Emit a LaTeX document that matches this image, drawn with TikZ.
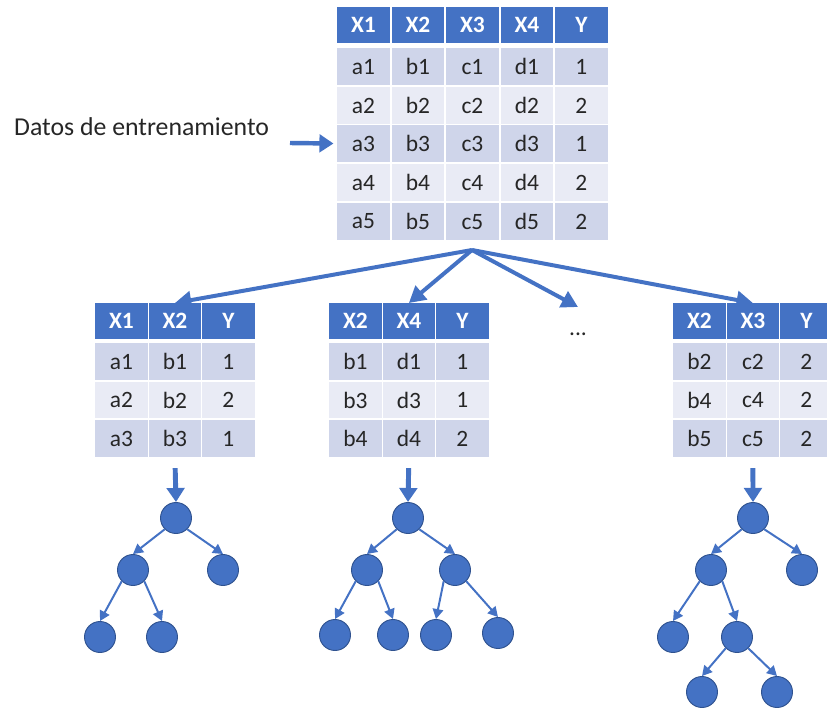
\documentclass[tikz,border=0pt]{standalone}
\usepackage{fontspec}
\setmainfont{Carlito}
\usetikzlibrary{arrows.meta}
\definecolor{hdblue}{HTML}{4472C4}
\definecolor{nodeline}{HTML}{2F528F}
\definecolor{rowdark}{HTML}{CFD5EA}
\definecolor{rowlight}{HTML}{E9EBF5}
\definecolor{inktext}{HTML}{262626}
\tikzset{
	head/.style={anchor=north west, fill=hdblue, text=white, font=\fontsize{20}{24}\selectfont\bfseries, minimum width=1.57cm, minimum height=1.06cm, inner sep=0pt},
	oddrow/.style={anchor=north west, fill=rowdark, text=inktext, font=\fontsize{20}{24}\selectfont, minimum width=1.57cm, minimum height=1.1cm, inner sep=0pt},
	evenrow/.style={oddrow, fill=rowlight},
	leaf/.style={circle, fill=hdblue, draw=nodeline, line width=0.8pt, minimum size=0.93cm, inner sep=0pt},
	splitarrow/.style={hdblue, line width=3.4pt, -{Triangle[length=14pt,width=15pt]}},
	feed/.style={hdblue, line width=4.2pt, -{Triangle[length=12pt,width=15pt]}},
	branch/.style={hdblue, line width=1.7pt, -{Triangle[length=8.5pt,width=9pt]}},
}
\def\cell(#1,#2)[#3]#4#5{\node[#3] (#4) at (#1,#2) {#5};}

\begin{document}
\begin{tikzpicture}[x=0.03cm, y=-0.03cm]
			%%%%% START %%%%%
			\useasboundingbox (0,0) rectangle (827,709);
			\clip (0,0) rectangle (827,709);
			
			% training table
			\cell(337,7)[head]{tr-0-1}{X1} \cell(391.5,7)[head]{tr-0-2}{X2} \cell(446,7)[head]{tr-0-3}{X3} \cell(500.5,7)[head]{tr-0-4}{X4} \cell(555,7)[head]{tr-0-5}{Y}
			\cell(337,48)[oddrow]{tr-1-1}{a1} \cell(391.5,48)[oddrow]{tr-1-2}{b1} \cell(446,48)[oddrow]{tr-1-3}{c1} \cell(500.5,48)[oddrow]{tr-1-4}{d1} \cell(555,48)[oddrow]{tr-1-5}{1}
			\cell(337,87)[evenrow]{tr-2-1}{a2} \cell(391.5,87)[evenrow]{tr-2-2}{b2} \cell(446,87)[evenrow]{tr-2-3}{c2} \cell(500.5,87)[evenrow]{tr-2-4}{d2} \cell(555,87)[evenrow]{tr-2-5}{2}
			\cell(337,125)[oddrow]{tr-3-1}{a3} \cell(391.5,125)[oddrow]{tr-3-2}{b3} \cell(446,125)[oddrow]{tr-3-3}{c3} \cell(500.5,125)[oddrow]{tr-3-4}{d3} \cell(555,125)[oddrow]{tr-3-5}{1}
			\cell(337,164)[evenrow]{tr-4-1}{a4} \cell(391.5,164)[evenrow]{tr-4-2}{b4} \cell(446,164)[evenrow]{tr-4-3}{c4} \cell(500.5,164)[evenrow]{tr-4-4}{d4} \cell(555,164)[evenrow]{tr-4-5}{2}
			\cell(337,203)[oddrow]{tr-5-1}{a5} \cell(391.5,203)[oddrow]{tr-5-2}{b5} \cell(446,203)[oddrow]{tr-5-3}{c5} \cell(500.5,203)[oddrow]{tr-5-4}{d5} \cell(555,203)[oddrow]{tr-5-5}{2}
			
			\node[anchor=west, text=inktext, font=\fontsize{22}{26}\selectfont, inner sep=0pt] (lbl) at (14,127) {Datos de entrenamiento};
			\coordinate (src) at (290,143);
			\draw[feed, line width=3.8pt, shorten >=3pt] (src) -- (tr-3-1.west);
			
			% subsets
			\cell(95,303)[head]{sa-0-1}{X1} \cell(148.5,303)[head]{sa-0-2}{X2} \cell(202,303)[head]{sa-0-3}{Y}
			\cell(95,343)[oddrow]{sa-1-1}{a1} \cell(148.5,343)[oddrow]{sa-1-2}{b1} \cell(202,343)[oddrow]{sa-1-3}{1}
			\cell(95,381.5)[evenrow]{sa-2-1}{a2} \cell(148.5,381.5)[evenrow]{sa-2-2}{b2} \cell(202,381.5)[evenrow]{sa-2-3}{2}
			\cell(95,420)[oddrow]{sa-3-1}{a3} \cell(148.5,420)[oddrow]{sa-3-2}{b3} \cell(202,420)[oddrow]{sa-3-3}{1}
			
			\cell(329,303)[head]{sb-0-1}{X2} \cell(382.5,303)[head]{sb-0-2}{X4} \cell(436,303)[head]{sb-0-3}{Y}
			\cell(329,343)[oddrow]{sb-1-1}{b1} \cell(382.5,343)[oddrow]{sb-1-2}{d1} \cell(436,343)[oddrow]{sb-1-3}{1}
			\cell(329,381.5)[evenrow]{sb-2-1}{b3} \cell(382.5,381.5)[evenrow]{sb-2-2}{d3} \cell(436,381.5)[evenrow]{sb-2-3}{1}
			\cell(329,420)[oddrow]{sb-3-1}{b4} \cell(382.5,420)[oddrow]{sb-3-2}{d4} \cell(436,420)[oddrow]{sb-3-3}{2}
			
			\cell(673,303)[head]{sc-0-1}{X2} \cell(726.5,303)[head]{sc-0-2}{X3} \cell(780,303)[head]{sc-0-3}{Y}
			\cell(673,343)[oddrow]{sc-1-1}{b2} \cell(726.5,343)[oddrow]{sc-1-2}{c2} \cell(780,343)[oddrow]{sc-1-3}{2}
			\cell(673,381.5)[evenrow]{sc-2-1}{b4} \cell(726.5,381.5)[evenrow]{sc-2-2}{c4} \cell(780,381.5)[evenrow]{sc-2-3}{2}
			\cell(673,420)[oddrow]{sc-3-1}{b5} \cell(726.5,420)[oddrow]{sc-3-2}{c5} \cell(780,420)[oddrow]{sc-3-3}{2}
			
			\node[text=inktext, font=\fontsize{20}{24}\selectfont, inner sep=0pt] (dots) at (578,334) {...};
			
			\coordinate (split) at (472,250);
			\coordinate (more) at (578,307);
			\draw[splitarrow] (split) -- (sa-0-2.north);
			\draw[splitarrow] (split) -- (sb-0-2.north);
			\draw[splitarrow] (split) -- (more);
			\draw[splitarrow] (split) -- (sc-0-2.north);
			
			% trees
			\node[leaf] (a0) at (176,518) {};
			\node[leaf] (a1) at (133,570) {};
			\node[leaf] (a2) at (223,570) {};
			\node[leaf] (a3) at (100,637) {};
			\node[leaf] (a4) at (162,637) {};
			
			\node[leaf] (b0) at (408,518) {};
			\node[leaf] (b1) at (367,570) {};
			\node[leaf] (b2) at (455,570) {};
			\node[leaf] (b3) at (335,635) {};
			\node[leaf] (b4) at (393,635) {};
			\node[leaf] (b5) at (436,635) {};
			\node[leaf] (b6) at (498,633) {};
			
			\node[leaf] (c0) at (753,518) {};
			\node[leaf] (c1) at (711,570) {};
			\node[leaf] (c2) at (802,570) {};
			\node[leaf] (c3) at (673,637) {};
			\node[leaf] (c4) at (737,637) {};
			\node[leaf] (c5) at (702,692) {};
			\node[leaf] (c6) at (777,692) {};
			
			\draw[feed, shorten <=0.33cm] (sa-3-2.south) -- (a0.north);
			\draw[feed, shorten <=0.33cm] (sb-3-2.south) -- (b0.north);
			\draw[feed, shorten <=0.33cm] (sc-3-2.south) -- (c0.north);
			
			\draw[branch] (a0.south west) -- (a1.north);
			\draw[branch] (a0.south east) -- (a2.north);
			\draw[branch] (a1.south west) -- (a3.north);
			\draw[branch] (a1.south east) -- (a4.north);
			
			\draw[branch] (b0.south west) -- (b1.north);
			\draw[branch] (b0.south east) -- (b2.north);
			\draw[branch] (b1.south west) -- (b3.north);
			\draw[branch] (b1.south east) -- (b4.north);
			\draw[branch] (b2.south west) -- (b5.north);
			\draw[branch] (b2.south east) -- (b6.north);
			
			\draw[branch] (c0.south west) -- (c1.north);
			\draw[branch] (c0.south east) -- (c2.north);
			\draw[branch] (c1.south west) -- (c3.north);
			\draw[branch] (c1.south east) -- (c4.north);
			\draw[branch] (c4.south west) -- (c5.north);
			\draw[branch] (c4.south east) -- (c6.north);
			
			%%%%% END %%%%%
\end{tikzpicture}
\end{document}
